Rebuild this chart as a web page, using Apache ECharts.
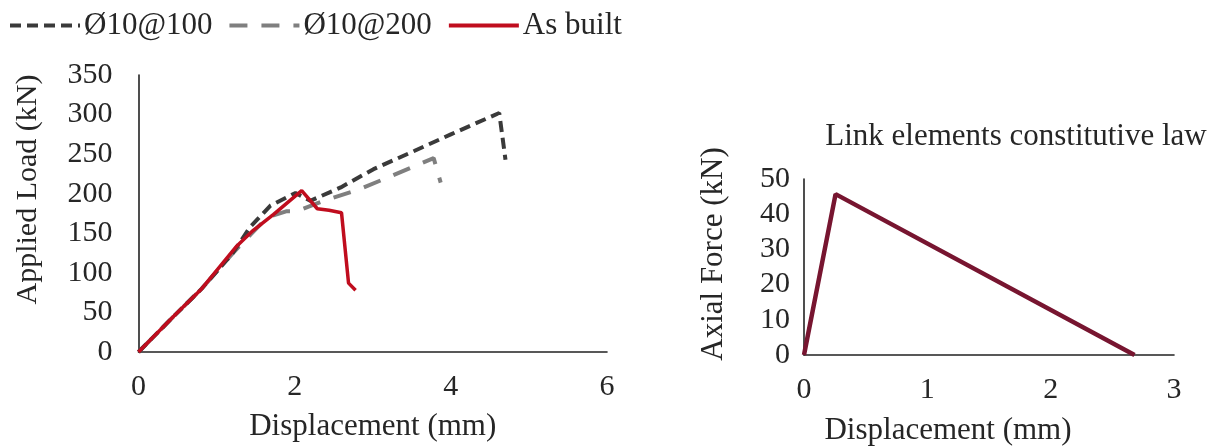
<!DOCTYPE html>
<html><head><meta charset="utf-8">
<script src="https://cdn.jsdelivr.net/npm/echarts@6/dist/echarts.min.js"></script>
<style>html,body{margin:0;padding:0;background:#fff}#c{width:1212px;height:447px}</style>
</head><body><div id="c"></div>
<script>
// Left chart: Applied load vs displacement
const s100 = [[0,0],[0.47,47],[0.81,80],[1.2,124],[1.43,158],[1.69,185],[2.01,201],[2.2,191],[2.59,208],[3.01,231],[3.53,254],[4.0,275],[4.62,302],[4.70,243]];
const s200 = [[0,0],[0.47,47],[0.81,80],[1.2,124],[1.45,150],[1.65,170],[1.9,178],[2.03,178],[2.37,191],[2.84,206],[3.18,220],[3.78,245],[3.87,214]];
const sBuilt = [[0,0],[0.47,47],[0.81,80],[1.26,134],[1.45,152],[1.73,174],[2.09,204],[2.29,181],[2.44,179],[2.6,176],[2.69,87],[2.78,78]];
// Right chart: link element constitutive law
const sLink = [[0,0],[0.256,45.7],[2.68,0]];
const legendNames = ['Ø10@100','Ø10@200','As built'];
const leftXTicks = {min:0,max:6,interval:2};
const leftYTicks = {min:0,max:350,interval:50};
const rightXTicks = {min:0,max:3,interval:1};
const rightYTicks = {min:0,max:50,interval:10};

const FONT = 'Liberation Serif';
const TXT = '#262626';
const axisLine = {show:true,lineStyle:{color:'#222',width:1.6}};
const lbl = {color:TXT,fontFamily:FONT,fontSize:30};
function ns(size,pad){return {color:TXT,fontFamily:FONT,fontSize:size,padding:pad};}

const chart = echarts.init(document.getElementById('c'),null,{renderer:'canvas'});
chart.setOption({
  animation:false,
  backgroundColor:'#fff',
  title:{text:'Link elements constitutive law',left:1011,top:116,textAlign:'center',
    textStyle:{color:TXT,fontFamily:FONT,fontSize:31,fontWeight:'normal'}},
  legend:{data:legendNames,left:3,top:5,itemWidth:70,itemHeight:4,itemGap:15,
    itemStyle:{opacity:0},lineStyle:{width:4},
    textStyle:{color:TXT,fontFamily:FONT,fontSize:31,padding:[0,0,0,-1]}},
  grid:[
    {left:138.5,top:75,width:468.5,height:279},
    {left:804,top:179,width:370,height:181}
  ],
  xAxis:[
    Object.assign({gridIndex:0,type:'value',splitLine:{show:false},axisTick:{show:false},axisLine:axisLine,
      axisLabel:Object.assign({margin:20},lbl),name:'Displacement (mm)',nameLocation:'middle',nameGap:59,nameTextStyle:ns(31,0)},leftXTicks),
    Object.assign({gridIndex:1,type:'value',splitLine:{show:false},axisTick:{show:false},axisLine:axisLine,
      axisLabel:Object.assign({margin:20},lbl),name:'Displacement (mm)',nameLocation:'middle',nameGap:60,nameTextStyle:ns(31,[0,82,0,0])},rightXTicks)
  ],
  yAxis:[
    Object.assign({gridIndex:0,type:'value',splitLine:{show:false},axisTick:{show:false},axisLine:axisLine,
      axisLabel:Object.assign({margin:26},lbl),name:'Applied Load (kN)',nameLocation:'middle',nameGap:95,nameTextStyle:ns(30,[0,0,0,48])},leftYTicks),
    Object.assign({gridIndex:1,type:'value',splitLine:{show:false},axisTick:{show:false},axisLine:axisLine,
      axisLabel:Object.assign({margin:14},lbl),name:'Axial Force (kN)',nameLocation:'middle',nameGap:75,nameTextStyle:ns(31,[0,0,0,26])},rightYTicks)
  ],
  series:[
    {name:legendNames[0],type:'line',xAxisIndex:0,yAxisIndex:0,data:s100,symbol:'none',
      lineStyle:{color:'#3a3a3a',width:4,type:[11,6]},itemStyle:{color:'#3a3a3a'},z:3},
    {name:legendNames[1],type:'line',xAxisIndex:0,yAxisIndex:0,data:s200,symbol:'none',
      lineStyle:{color:'#7f7f7f',width:4,type:[18,14]},itemStyle:{color:'#7f7f7f'},z:2},
    {name:legendNames[2],type:'line',xAxisIndex:0,yAxisIndex:0,data:sBuilt,symbol:'none',
      lineStyle:{color:'#c00d1e',width:3.5},itemStyle:{color:'#c00d1e'},z:4},
    {name:'link',type:'line',xAxisIndex:1,yAxisIndex:1,data:sLink,symbol:'none',
      lineStyle:{color:'#771530',width:4.5},itemStyle:{color:'#771530'}}
  ]
});
</script></body></html>
